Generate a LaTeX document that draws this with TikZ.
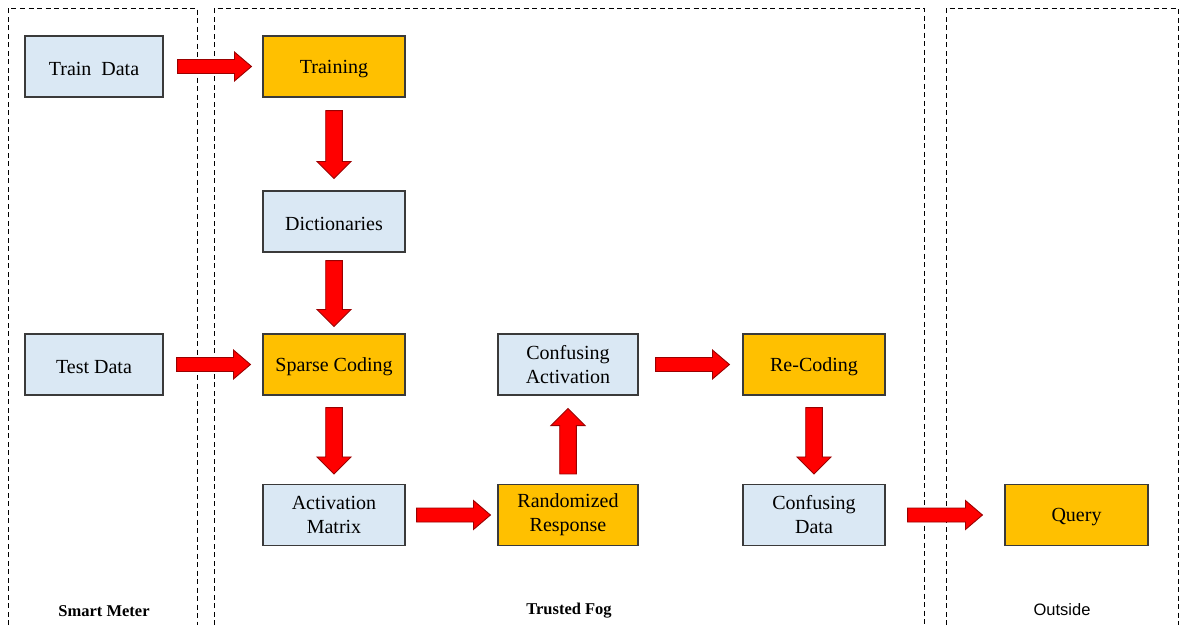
\documentclass[tikz,border=0pt]{standalone}
\usepackage{fontspec}
\setmainfont{Liberation Serif}
\newfontfamily\labsans{Liberation Sans}
\usetikzlibrary{calc}
\definecolor{boxblue}{HTML}{DAE8F4}
\definecolor{boxorange}{HTML}{FFC000}
\definecolor{arrred}{HTML}{FF0000}
\definecolor{arredge}{HTML}{9A0000}
\definecolor{boxedge}{HTML}{3A3A3A}
\tikzset{
  box/.style={draw=boxedge, line width=1.1pt, minimum width=142pt, minimum height=61pt,
    inner sep=0pt, align=center, font=\fontsize{20}{24}\selectfont},
  bluebox/.style={box, fill=boxblue},
  orangebox/.style={box, fill=boxorange},
  region/.style={draw=black, line width=0.9pt, dash pattern=on 5pt off 3.5pt},
  regionlabel/.style={font=\fontsize{16.5}{18}\selectfont\bfseries},
  blockarrow/.style={draw=arredge, line width=0.9pt, fill=arrred, line join=miter}
}
\newcommand\low[1]{\raisebox{-2.5pt}[\height][\depth]{#1}}
% #1 start anchor, #2 end anchor, #3 gap at start, #4 gap at end, #5 shaft half width, #6 head half width
\newcommand\barrow[6]{%
  \path[blockarrow] let \p1=($(#1)!#3!(#2)$), \p2=($(#2)!#4!(#1)$),
    \n1={veclen(\x2-\x1,\y2-\y1)}, \n2={(\x2-\x1)/\n1}, \n3={(\y2-\y1)/\n1} in
    ({\x1-#5*\n3},{\y1+#5*\n2}) --
    ({\x2-17pt*\n2-#5*\n3},{\y2-17pt*\n3+#5*\n2}) --
    ({\x2-17pt*\n2-#6*\n3},{\y2-17pt*\n3+#6*\n2}) --
    (\x2,\y2) --
    ({\x2-17pt*\n2+#6*\n3},{\y2-17pt*\n3-#6*\n2}) --
    ({\x2-17pt*\n2+#5*\n3},{\y2-17pt*\n3-#5*\n2}) --
    ({\x1+#5*\n3},{\y1-#5*\n2}) -- cycle;}
\newcommand\harrow[4]{\barrow{#1}{#2}{#3}{#4}{7pt}{14.5pt}}
\newcommand\varrow[4]{\barrow{#1}{#2}{#3}{#4}{8.3pt}{17pt}}
\begin{document}
\begin{tikzpicture}[x=1pt,y=-1pt]
\useasboundingbox (0,0) rectangle (1181,625);
% regions
\draw[region] (8,625) -- (8,8) -- (197,8) -- (197,625);
\draw[region] (214,625) -- (214,8) -- (924,8) -- (924,625);
\draw[region] (946,625) -- (946,8) -- (1178,8) -- (1178,625);
\node[regionlabel] (lsm) at (104,611) {Smart Meter};
\node[regionlabel] (ltf) at (569,611) {Trusted Fog};
\node[font=\labsans\fontsize{16.5}{18}\selectfont] (lout) at (1062,610) {Outside};
% boxes
\node[bluebox, minimum width=138pt] (train) at (94,66.5) {\low{Train\ \ Data}};
\node[orangebox] (training) at (334,66.5) {\low{Training}};
\node[bluebox] (dict) at (334,221.5) {\low{Dictionaries}};
\node[orangebox] (sparse) at (334,364.5) {\low{Sparse Coding}};
\node[bluebox, minimum width=138pt] (test) at (94,364.5) {\low{Test Data}};
\node[bluebox] (act) at (334,515) {Activation\\Matrix};
\node[orangebox, minimum width=140pt] (rr) at (568,515) {Randomized\\Response};
\node[bluebox, minimum width=140pt] (ca) at (568,364.5) {Confusing\\Activation};
\node[orangebox] (rc) at (814,364.5) {\low{Re-Coding}};
\node[bluebox] (cd) at (814,515) {Confusing\\Data};
\node[orangebox, minimum width=143pt] (query) at (1076.5,515) {\low{Query}};
% arrows
\harrow{train.east}{training.west}{14pt}{11pt}
\varrow{training.south}{dict.north}{13pt}{12pt}
\varrow{dict.south}{sparse.north}{8pt}{7pt}
\harrow{test.east}{sparse.west}{13pt}{12pt}
\varrow{sparse.south}{act.north}{12pt}{10pt}
\harrow{act.east}{rr.west}{11pt}{7pt}
\varrow{rr.north}{ca.south}{10pt}{13pt}
\harrow{ca.east}{rc.west}{17pt}{13pt}
\varrow{rc.south}{cd.north}{12pt}{10pt}
\harrow{cd.east}{query.west}{22pt}{22pt}
\end{tikzpicture}
\end{document}
